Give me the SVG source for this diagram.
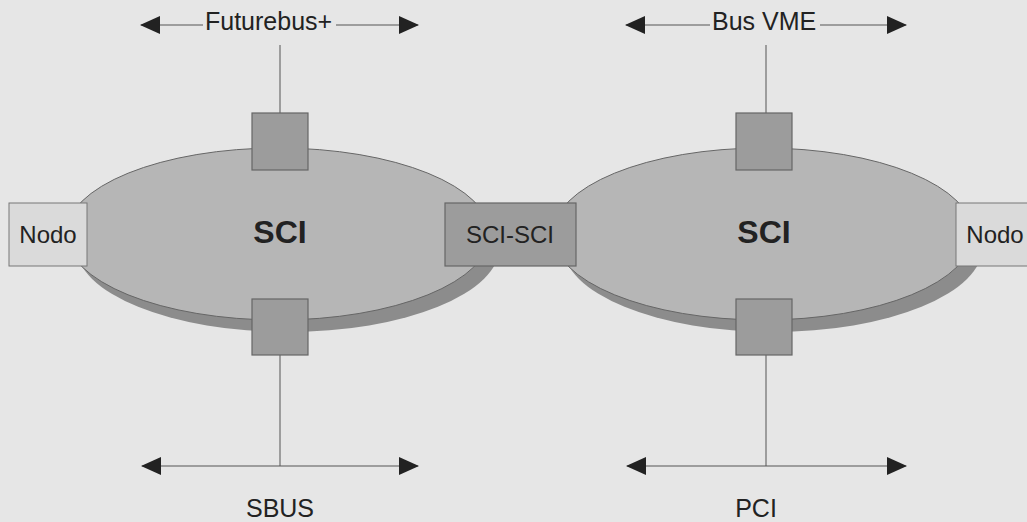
<svg xmlns="http://www.w3.org/2000/svg" width="1027" height="522" viewBox="0 0 1027 522">
<style>
.bg{fill:#e6e6e6}
.shadow{fill:#8c8c8c}
.ring{fill:#b6b6b6;stroke:#666;stroke-width:1}
.port{fill:#9c9c9c;stroke:#666;stroke-width:1.2}
.node{fill:#dadada;stroke:#777;stroke-width:1}
.bridge{fill:#9c9c9c;stroke:#666;stroke-width:1.2}
.line{stroke:#555;stroke-width:1;fill:none}
text{font-family:"Liberation Sans",Arial,sans-serif;fill:#222}
.lbl{font-size:25px}
.big{font-size:32px;font-weight:bold;text-anchor:middle}
.box{font-size:24px;text-anchor:middle}
</style>
<defs>
<marker id="ah" markerWidth="20" markerHeight="18" refX="19" refY="9" orient="auto-start-reverse" markerUnits="userSpaceOnUse">
<path d="M0,0 L20,9 L0,18 Z" fill="#222"/>
</marker>
</defs>
<rect class="bg" x="0" y="0" width="1027" height="522"/>
<g id="connectors">
<line class="line" x1="280" y1="45" x2="280" y2="113"/>
<line class="line" x1="280" y1="355" x2="280" y2="466"/>
<line class="line" x1="766" y1="45" x2="766" y2="113"/>
<line class="line" x1="766" y1="355" x2="766" y2="466"/>
<line class="line" x1="141" y1="25" x2="203" y2="25" marker-start="url(#ah)"/>
<line class="line" x1="336" y1="25" x2="418" y2="25" marker-end="url(#ah)"/>
<line class="line" x1="626" y1="25" x2="710" y2="25" marker-start="url(#ah)"/>
<line class="line" x1="820" y1="25" x2="906" y2="25" marker-end="url(#ah)"/>
<line class="line" x1="142" y1="466" x2="418" y2="466" marker-start="url(#ah)" marker-end="url(#ah)"/>
<line class="line" x1="627" y1="466" x2="906" y2="466" marker-start="url(#ah)" marker-end="url(#ah)"/>
</g>
<g id="ring-left">
<ellipse class="shadow" cx="288" cy="246" rx="212" ry="86"/>
<ellipse class="ring" cx="278" cy="234" rx="212" ry="86"/>
<text class="big" x="280" y="243">SCI</text>
</g>
<g id="ring-right">
<ellipse class="shadow" cx="773" cy="246" rx="210" ry="86"/>
<ellipse class="ring" cx="763" cy="234" rx="210" ry="86"/>
<text class="big" x="764" y="243">SCI</text>
</g>
<g id="port-futurebus"><rect class="port" x="252" y="113" width="56" height="57"/></g>
<g id="port-sbus"><rect class="port" x="252" y="299" width="56" height="56"/></g>
<g id="port-vme"><rect class="port" x="736" y="113" width="56" height="57"/></g>
<g id="port-pci"><rect class="port" x="736" y="299" width="56" height="56"/></g>
<g id="nodo-left">
<rect class="node" x="9" y="203" width="78" height="63"/>
<text class="box" x="48" y="243">Nodo</text>
</g>
<g id="sci-sci">
<rect class="bridge" x="445" y="203" width="131" height="63"/>
<text class="box" x="510" y="243">SCI-SCI</text>
</g>
<g id="nodo-right">
<rect class="node" x="956" y="203" width="80" height="63"/>
<text class="box" x="995" y="243">Nodo</text>
</g>
<g id="labels">
<text class="lbl" x="205" y="30">Futurebus+</text>
<text class="lbl" x="712" y="30">Bus VME</text>
<text class="lbl" x="280" y="517" text-anchor="middle">SBUS</text>
<text class="lbl" x="756" y="517" text-anchor="middle">PCI</text>
</g>
</svg>
